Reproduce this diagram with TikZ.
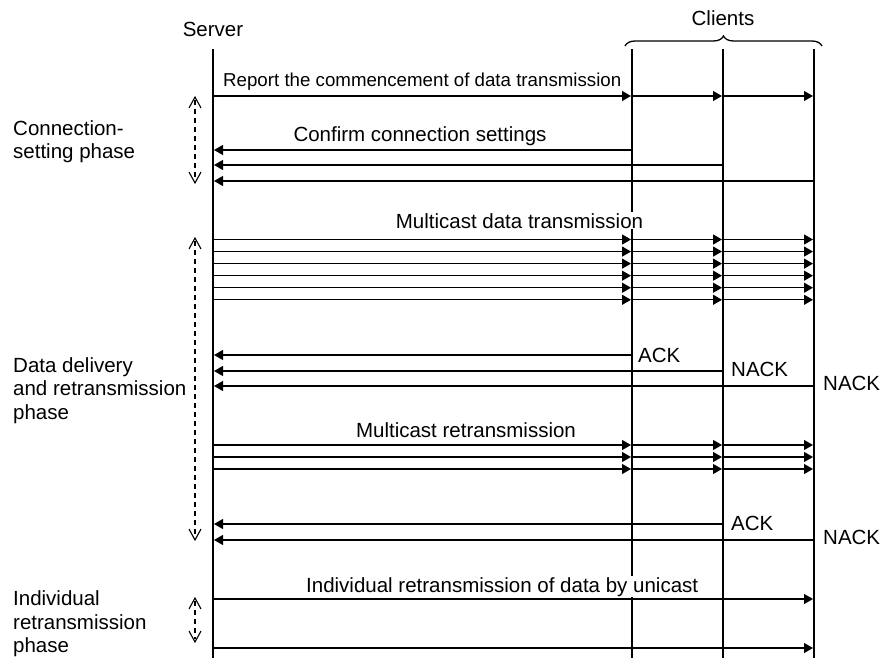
\documentclass[tikz,border=0pt]{standalone}
\usepackage{fontspec}
\setmainfont{Liberation Sans}
\usetikzlibrary{arrows.meta,decorations.pathreplacing}

\begin{document}
\begin{tikzpicture}[x=1pt,y=-1pt,
  life/.style={line width=2pt},
  msg/.style={line width=1.3pt,shorten >=1pt,-{Triangle[length=9pt,width=10pt]}},
  phase/.style={line width=1.1pt,dash pattern=on 5pt off 4pt},
  vhead/.style={line width=1.1pt,line join=miter},
  lbl/.style={font=\fontsize{20.5}{23.5}\selectfont,inner sep=1pt},
  tag/.style={lbl,anchor=base west},
  title/.style={lbl,fill=white,anchor=base},
  brace/.style={line width=1.3pt,decorate,decoration={brace,amplitude=10pt,aspect=0.5}}]

\useasboundingbox (0,0) rectangle (881,658);

% lifelines: server and the three clients
\coordinate (S) at (213,49);
\coordinate (A) at (632,49);
\coordinate (B) at (723,49);
\coordinate (C) at (814,49);
\coordinate (bot) at (0,658);
\foreach \l in {S,A,B,C} \draw[life] (\l) -- (\l |- bot);

% headings
\node[lbl,anchor=base] (server) at (213,37) {Server};
\node[lbl,anchor=base] (clients) at (723,26) {Clients};
\coordinate (brL) at (625,46);
\coordinate (brR) at (822,46);
\draw[brace] (brL) -- (brR);

% message captions (white boxes mask the lifelines behind them)
\node[lbl,fill=white,anchor=base west,font=\fontsize{18.7}{22}\selectfont] (report) at (222,87) {Report the commencement of data transmission};
\node[title] (confirm) at (420,142) {Confirm connection settings};
\node[title] (mcast) at (519.5,228) {Multicast data transmission};
\node[title] (remcast) at (466,437) {Multicast retransmission};
\node[lbl,fill=white,anchor=base west] (indiv) at (305,592) {Individual retransmission of data by unicast};

% replies
\node[tag] (ack1) at (637,362) {ACK};
\node[tag] (nack1) at (730,376) {NACK};
\node[tag] (nack2) at (822,390) {NACK};
\node[tag] (ack2) at (730,530) {ACK};
\node[tag] (nack3) at (822,544) {NACK};

% phase names (placed by the baseline of their last line)
\node[tag,align=left] (ph1) at (12,159) {Connection-\\setting phase};
\node[tag,align=left] (ph2) at (12,419) {Data delivery\\and retransmission\\phase};
\node[tag,align=left] (ph3) at (12,652.5) {Individual\\retransmission\\phase};

% row heights
\coordinate (rep) at (0,96);
\coordinate (cfA) at (0,150);
\coordinate (cfB) at (0,165);
\coordinate (cfC) at (0,181);
\foreach \i in {1,...,6} \coordinate (m\i) at (0,{239.5+12.06*(\i-1)});
\coordinate (akA) at (0,355);
\coordinate (akB) at (0,371);
\coordinate (akC) at (0,386);
\foreach \i in {1,2,3} \coordinate (t\i) at (0,{445+12*(\i-1)});
\coordinate (bkB) at (0,524);
\coordinate (bkC) at (0,540);
\coordinate (u1) at (0,599);
\coordinate (u2) at (0,648);

% multicast messages, hop by hop
\foreach \r in {rep,m1,m2,m3,m4,m5,m6,t1,t2,t3} {
  \draw[msg] (S |- \r) -- (A |- \r);
  \draw[msg] (A |- \r) -- (B |- \r);
  \draw[msg] (B |- \r) -- (C |- \r);
}

% replies back to the server
\draw[msg] (A |- cfA) -- (S |- cfA);
\draw[msg] (B |- cfB) -- (S |- cfB);
\draw[msg] (C |- cfC) -- (S |- cfC);
\draw[msg] (A |- akA) -- (S |- akA);
\draw[msg] (B |- akB) -- (S |- akB);
\draw[msg] (C |- akC) -- (S |- akC);
\draw[msg] (B |- bkB) -- (S |- bkB);
\draw[msg] (C |- bkC) -- (S |- bkC);

% unicast retransmission
\draw[msg] (S |- u1) -- (C |- u1);
\draw[msg] (S |- u2) -- (C |- u2);

% phase extents: dashed span with open chevrons at both ends
\coordinate (p1a) at (195,97);
\coordinate (p1b) at (195,183);
\coordinate (p2a) at (195,238);
\coordinate (p2b) at (195,540);
\coordinate (p3a) at (195,598);
\coordinate (p3b) at (195,642);
\foreach \a/\b in {p1a/p1b,p2a/p2b,p3a/p3b} {
  \draw[phase] ([yshift=-3pt]\a) -- ([yshift=3pt]\b);
  \draw[vhead] (\a) +(-6,11) -- (\a) -- +(6,11);
  \draw[vhead] (\b) +(-6,-11) -- (\b) -- +(6,-11);
}
\end{tikzpicture}
\end{document}
